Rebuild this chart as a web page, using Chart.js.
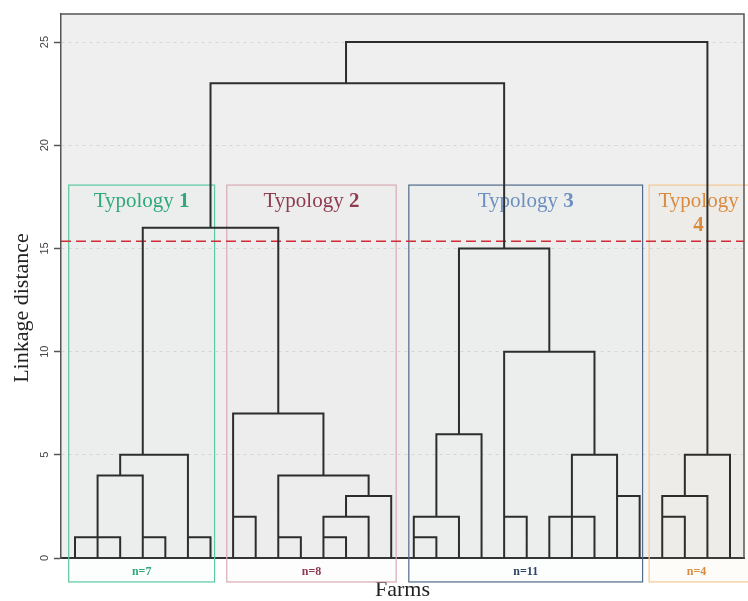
<!DOCTYPE html>
<html>
<head>
<meta charset="utf-8">
<title>Farm typology dendrogram</title>
<script src="https://cdn.jsdelivr.net/npm/chart.js@4.4.1/dist/chart.umd.min.js"></script>
<style>
  html, body { margin: 0; padding: 0; background: #fff; }
  #wrap { width: 748px; height: 601px; }
</style>
</head>
<body>
<div id="wrap"><canvas id="dendro"></canvas></div>
<script>
// -------------------------------------
// Data: farms 1..30 along x, linkage distance on y
// -------------------------------------

// vertical links: [farm position, from height, to height]
const vLinks = [
  [1, 0, 1], [2, 0, 4], [3, 0, 1], [3, 4, 5], [4, 0, 4], [4, 5, 16],
  [5, 0, 1], [6, 0, 5], [7, 0, 1], [7, 16, 23],
  [8, 0, 7], [9, 0, 2], [10, 0, 4], [10, 7, 16], [11, 0, 1], [12, 0, 2],
  [12, 4, 7], [13, 0, 1], [13, 2, 3], [13, 23, 25], [14, 0, 2], [14, 3, 4], [15, 0, 3],
  [16, 0, 2], [17, 0, 1], [17, 2, 6], [18, 0, 2], [18, 6, 15], [19, 0, 6],
  [20, 0, 10], [20, 15, 23], [21, 0, 2], [22, 0, 2], [22, 10, 15], [23, 0, 5],
  [24, 0, 2], [24, 5, 10], [25, 0, 5], [26, 0, 3],
  [27, 0, 3], [28, 0, 2], [28, 3, 5], [29, 0, 3], [29, 5, 25], [30, 0, 5]
];

// horizontal links: [height, from position, to position]
const hLinks = [
  [1, 1, 3], [4, 2, 4], [5, 3, 6], [1, 4, 5], [1, 6, 7], [16, 4, 10],
  [7, 8, 12], [2, 8, 9], [4, 10, 14], [1, 10, 11], [3, 13, 15], [2, 12, 14], [1, 12, 13],
  [15, 18, 22], [6, 17, 19], [2, 16, 18], [1, 16, 17], [2, 20, 21], [10, 20, 24],
  [5, 23, 25], [2, 22, 24], [3, 25, 26],
  [5, 28, 30], [3, 27, 29], [2, 27, 28],
  [23, 7, 20], [25, 13, 29]
];

const yTicks = [0, 5, 10, 15, 20, 25];
const cutHeight = 15.35;

// typology groups
const groupNumbers = ["1", "2", "3", "4"];
const groupFirst = [1, 8, 16, 27];
const groupLast = [7, 15, 26, 30];
const groupCounts = ["n=7", "n=8", "n=11", "n=4"];

// axis ranges
const xMin = 0.38, xMax = 30.62;
const yMax = 26.36;

// -------------------------------------
// Styles
// -------------------------------------
const groupStroke = ["#5cc9a0", "#d9aab3", "#506a8a", "#f3c796"];
const groupFill = ["rgba(92,201,160,0.02)", "rgba(217,170,179,0.02)", "rgba(80,106,138,0.015)", "rgba(243,199,150,0.06)"];
const groupText = ["#2fa97a", "#8e3b50", "#6a8fc0", "#d98b3e"];
const countText = ["#2fa97a", "#8e3b50", "#2f4466", "#d98b3e"];
const groupPadLeft = [0.28, 0.28, 0.22, 0.58];
const groupPadRight = [0.18, 0.22, 0.13, 0];
const serif = '"Liberation Serif", "Times New Roman", serif';

// flatten links into one line dataset, null y breaks the line
const linkPoints = [];
vLinks.forEach(([x, y0, y1]) => {
  linkPoints.push({ x: x, y: y0 }, { x: x, y: y1 }, { x: x, y: null });
});
hLinks.forEach(([y, x0, x1]) => {
  linkPoints.push({ x: x0, y: y }, { x: x1, y: y }, { x: x1, y: null });
});

// -------------------------------------
// Plugin: panel background, typology boxes, labels, frame
// -------------------------------------
const typologyPlugin = {
  id: "typologyBoxes",
  beforeDraw(chart) {
    const { ctx, chartArea: a } = chart;
    ctx.save();
    ctx.fillStyle = "#ffffff";
    ctx.fillRect(0, 0, chart.width, chart.height);
    ctx.fillStyle = "#efefef";
    ctx.fillRect(a.left, a.top, a.right - a.left, a.bottom - a.top);
    ctx.restore();
  },
  beforeDatasetsDraw(chart) {
    const { ctx, chartArea: a } = chart;
    const x = chart.scales.x, y = chart.scales.y;
    const top = y.getPixelForValue(18.07);
    const bottom = y.getPixelForValue(-1.16);
    const last = groupFirst.length - 1;

    ctx.save();
    groupFirst.forEach((first, i) => {
      const left = x.getPixelForValue(first - groupPadLeft[i]);
      // the last box runs off the edge of the figure
      const right = i === last ? chart.width + 5 : x.getPixelForValue(groupLast[i] + groupPadRight[i]);
      ctx.fillStyle = groupFill[i];
      ctx.fillRect(left, top, right - left, bottom - top);
      ctx.strokeStyle = groupStroke[i];
      ctx.lineWidth = 1.2;
      ctx.strokeRect(left, top, right - left, bottom - top);

      const cx = (left + Math.min(right, a.right)) / 2;
      const ty = y.getPixelForValue(17.0);
      const reg = "21px " + serif;
      const bold = "bold 21px " + serif;
      ctx.fillStyle = groupText[i];
      ctx.textBaseline = "alphabetic";
      if (i === last) {
        // no room on one line, number goes underneath
        ctx.textAlign = "center";
        ctx.font = reg;
        ctx.fillText("Typology", cx + 2, ty);
        ctx.font = bold;
        ctx.fillText(groupNumbers[i], cx + 2, ty + 24);
      } else {
        ctx.font = reg;
        const w1 = ctx.measureText("Typology ").width;
        ctx.font = bold;
        const w2 = ctx.measureText(groupNumbers[i]).width;
        const start = cx - (w1 + w2) / 2;
        ctx.textAlign = "left";
        ctx.font = reg;
        ctx.fillText("Typology ", start, ty);
        ctx.font = bold;
        ctx.fillText(groupNumbers[i], start + w1, ty);
      }

      ctx.font = "bold 12px " + serif;
      ctx.textAlign = "center";
      ctx.textBaseline = "middle";
      ctx.fillStyle = countText[i];
      ctx.fillText(groupCounts[i], cx, y.getPixelForValue(-0.68));
    });
    ctx.restore();
  },
  afterDatasetsDraw(chart) {
    const { ctx, chartArea: a } = chart;
    ctx.save();
    ctx.strokeStyle = "#555";
    ctx.lineWidth = 1.5;
    ctx.beginPath();
    ctx.moveTo(a.left, a.top);
    ctx.lineTo(a.right, a.top);
    ctx.lineTo(a.right, a.bottom);
    ctx.stroke();
    ctx.restore();
  }
};

// -------------------------------------
// Chart
// -------------------------------------
new Chart(document.getElementById("dendro"), {
  type: "scatter",
  data: {
    datasets: [
      {
        label: "Links",
        data: linkPoints,
        showLine: true,
        spanGaps: false,
        borderColor: "#2d2d2d",
        borderWidth: 2,
        borderCapStyle: "square",
        pointRadius: 0,
        pointHoverRadius: 0
      },
      {
        label: "Cut",
        data: [{ x: xMin, y: cutHeight }, { x: xMax, y: cutHeight }],
        showLine: true,
        borderColor: "#d42a35",
        borderWidth: 1.6,
        borderDash: [10, 5],
        pointRadius: 0,
        pointHoverRadius: 0
      }
    ]
  },
  options: {
    responsive: true,
    maintainAspectRatio: false,
    animation: false,
    layout: { padding: { top: 14, right: 4, left: 0, bottom: 0 } },
    plugins: {
      legend: { display: false },
      tooltip: { enabled: false }
    },
    scales: {
      x: {
        type: "linear",
        min: xMin,
        max: xMax,
        ticks: { display: false },
        grid: { display: false },
        border: { display: true, color: "#333", width: 2 },
        title: {
          display: true,
          text: "Farms",
          color: "#222",
          padding: 0,
          font: { family: serif, size: 22, lineHeight: 1 }
        },
        afterFit: (s) => { s.height = 43; }
      },
      y: {
        type: "linear",
        min: 0,
        max: yMax,
        afterBuildTicks: (s) => { s.ticks = yTicks.map((v) => ({ value: v })); },
        ticks: {
          minRotation: 90,
          maxRotation: 90,
          crossAlign: "center",
          padding: 3,
          color: "#444",
          font: { family: '"Liberation Sans", Arial, sans-serif', size: 11 }
        },
        grid: {
          color: (c) => (c.tick && c.tick.value === 0 ? "rgba(0,0,0,0)" : "#d6d6d6"),
          lineWidth: 1,
          tickColor: "#555",
          tickLength: 7,
          tickWidth: 1.5
        },
        border: { display: true, color: "#555", width: 1.5, dash: [3, 4] },
        title: {
          display: true,
          // trailing spaces push the rotated text a little lower
          text: "Linkage distance\u00a0\u00a0\u00a0\u00a0\u00a0\u00a0\u00a0\u00a0",
          color: "#222",
          padding: { top: 11, bottom: 0 },
          font: { family: serif, size: 22, lineHeight: 1 }
        },
        afterFit: (s) => { s.width = 61; }
      }
    }
  },
  plugins: [typologyPlugin]
});
</script>
</body>
</html>
